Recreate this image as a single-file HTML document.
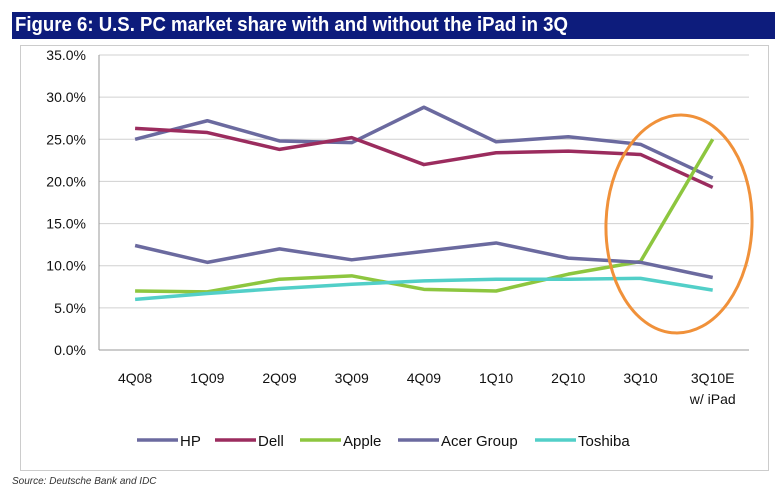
<!DOCTYPE html>
<html><head><meta charset="utf-8"><style>
body{margin:0;background:#fff;font-family:"Liberation Sans",sans-serif;}
#wrap{position:relative;width:783px;height:495px;overflow:hidden;}
</style></head><body>
<div id="wrap">
<div style="position:absolute;left:12px;top:12px;width:763px;height:27px;background:#0d1c7c;"></div>
<div style="position:absolute;left:15px;top:14px;color:#fff;font-weight:bold;font-size:20px;transform:scaleX(0.93);transform-origin:left;white-space:nowrap;">Figure 6: U.S. PC market share with and without the iPad in 3Q</div>
<div style="position:absolute;left:20px;top:45px;width:747px;height:424px;border:1px solid #ccc;"></div>
<svg id="chart" width="783" height="495" style="position:absolute;left:0;top:0"></svg>
<div style="position:absolute;left:12px;top:476px;font-size:10px;font-style:italic;color:#333;">Source: Deutsche Bank and IDC</div>
</div>
<script>
const categories=["4Q08","1Q09","2Q09","3Q09","4Q09","1Q10","2Q10","3Q10","3Q10E"];
const yTicks=[0,5,10,15,20,25,30,35];
const seriesNames=["HP","Dell","Apple","Acer Group","Toshiba"];
const hp=[25.0,27.2,24.8,24.6,28.8,24.7,25.3,24.4,20.4];
const dell=[26.3,25.8,23.8,25.2,22.0,23.4,23.6,23.2,19.3];
const apple=[7.0,6.9,8.4,8.8,7.2,7.0,9.0,10.5,25.0];
const acer=[12.4,10.4,12.0,10.7,11.7,12.7,10.9,10.4,8.6];
const toshiba=[6.0,6.7,7.3,7.8,8.2,8.4,8.4,8.5,7.1];
const colors=["#6b6a9f","#9b2c5e","#8dc63f","#6b6a9f","#52cfc8"];
const allSeries=[hp,dell,apple,acer,toshiba];
const svg=document.getElementById('chart');
const NS="http://www.w3.org/2000/svg";
const x0=99,step=72.2,yBase=350,yTop=55;
const xs=i=>x0+step*(i+0.5);
const ys=v=>yBase-(v/35)*(yBase-yTop);
function mk(t,a){const e=document.createElementNS(NS,t);for(const k in a)e.setAttribute(k,a[k]);svg.appendChild(e);return e;}
yTicks.forEach(t=>{
 const g=mk('line',{x1:x0,x2:749,y1:ys(t),y2:ys(t),stroke:t===0?'#999':'#d0d0d0','stroke-width':1});
 
 
 const l=mk('text',{x:86,y:ys(t)+5,'text-anchor':'end','font-size':14,fill:'#111','font-family':'Liberation Sans'});
 l.textContent=t.toFixed(1)+'%';
 
 
});
mk('line',{x1:x0,x2:x0,y1:yTop,y2:yBase,stroke:'#999'});
categories.forEach((c,i)=>{
 const l=mk('text',{x:xs(i),y:383,'text-anchor':'middle','font-size':14,fill:'#111','font-family':'Liberation Sans'});
 l.textContent=c;
 
 
});
const w=mk('text',{x:xs(8),y:404,'text-anchor':'middle','font-size':14,fill:'#111','font-family':'Liberation Sans'});
w.textContent='w/ iPad';


allSeries.forEach((s,k)=>{
 const p=mk('polyline',{points:s.map((v,i)=>xs(i)+','+ys(v)).join(' '),fill:'none',stroke:colors[k],'stroke-width':3.5,'stroke-linejoin':'round'});
 
 
});
const el=mk('ellipse',{cx:679,cy:224,rx:73,ry:109,fill:'none',stroke:'#f0913a','stroke-width':3,transform:'rotate(2 679 224)'});


const lx=[137,215,300,398,535];
seriesNames.forEach((n,k)=>{
 const ln=mk('line',{x1:lx[k],x2:lx[k]+41,y1:440,y2:440,stroke:colors[k],'stroke-width':3.5});
 
 
 const t=mk('text',{x:lx[k]+43,y:446,'font-size':15,fill:'#111','font-family':'Liberation Sans'});
 t.textContent=n;
 
 
});
</script>
</body></html>
